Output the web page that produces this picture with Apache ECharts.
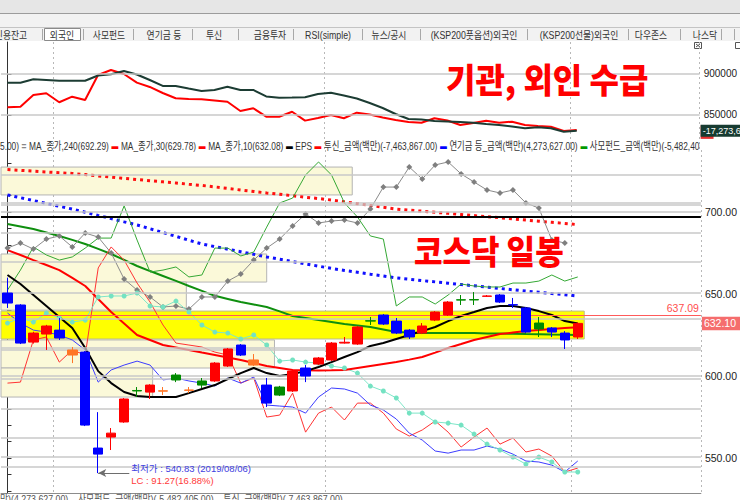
<!DOCTYPE html>
<html>
<head>
<meta charset="utf-8">
<script src="https://cdn.jsdelivr.net/npm/echarts@6/dist/echarts.min.js"></script>
<style>
html, body { margin: 0; padding: 0; background: #fff; }
#chart1 { width: 740px; height: 500px; }
</style>
</head>
<body>
<div id="chart1"></div>
<script>
// 코스닥 일봉 (2019/07/26 ~ 2019/10/01)
var dates = ['2019/07/26','2019/07/29','2019/07/30','2019/07/31','2019/08/01','2019/08/02','2019/08/05','2019/08/06',
    '2019/08/07','2019/08/08','2019/08/09','2019/08/12','2019/08/13','2019/08/14','2019/08/16','2019/08/19',
    '2019/08/20','2019/08/21','2019/08/22','2019/08/23','2019/08/26','2019/08/27','2019/08/28','2019/08/29',
    '2019/08/30','2019/09/02','2019/09/03','2019/09/04','2019/09/05','2019/09/06','2019/09/09','2019/09/10',
    '2019/09/11','2019/09/16','2019/09/17','2019/09/18','2019/09/19','2019/09/20','2019/09/23','2019/09/24',
    '2019/09/25','2019/09/26','2019/09/27','2019/09/30','2019/10/01'];

var opens  = [650.6,643.3,620.7,625.6,628.0,612.8,614.6,556.1,562.8,572.0,591.2,590.2,590.8,600.6,591.3,597.0,597.0,606.1,618.9,606.7,594.5,593.3,590.9,604.9,607.3,609.8,620.1,619.5,633.7,637.2,633.5,628.0,626.2,634.1,637.2,646.5,646.6,648.6,649.4,643.5,641.5,632.3,629.3,626.2,623.8];
var closes = [644.5,620.1,626.2,630.5,623.2,615.9,570.1,552.4,565.2,586.0,590.9,594.5,591.0,597.6,591.5,594.5,607.9,616.5,612.8,609.8,583.5,588.4,603.0,600.0,611.0,620.1,620.6,629.9,633.5,631.7,626.2,623.8,630.5,639.0,645.1,646.3,646.4,648.8,645.1,643.3,626.8,628.7,626.8,622.0,632.1];
var lows   = [641.5,619.5,619.8,615.9,622.0,607.9,569.5,540.83,554.9,571.5,587.2,586.0,588.4,596.3,589.6,592.7,596.5,605.5,612.2,606.1,581.1,587.8,590.3,596.3,606.7,609.2,619.8,619.0,631.1,631.1,625.6,622.6,625.6,633.5,636.6,643.3,643.3,648.2,644.5,641.5,626.2,623.8,623.8,616.5,622.6];
var highs  = [660.0,643.8,627.0,631.2,635.4,617.7,615.2,578.0,568.3,586.6,593.3,595.0,593.3,601.8,593.3,598.8,608.5,617.1,619.5,613.4,598.8,594.0,603.6,606.7,611.6,620.7,623.8,630.5,636.0,637.8,635.4,628.6,632.3,639.6,645.7,649.4,651.2,649.4,650.0,647.6,642.1,636.0,629.9,627.4,632.7];

// 이동평균
var ma240 = [725.9,725.4,724.9,724.4,723.9,723.5,722.8,722.0,721.3,720.5,719.8,719.1,718.4,717.7,716.9,716.2,715.3,714.4,713.4,712.5,711.6,710.8,709.9,709.0,708.2,707.3,706.2,705.1,704.0,702.9,701.8,701.1,700.5,699.8,699.2,698.5,697.8,697.1,696.5,695.8,695.1,694.4,693.7,693.0,692.29];
var ma120 = [710.4,708.7,707.0,705.2,703.5,701.8,699.9,697.9,696.0,694.0,692.1,689.8,687.5,685.2,682.8,680.5,678.9,677.3,675.8,674.2,672.6,671.2,669.8,668.4,667.0,665.6,664.4,663.3,662.1,661.0,659.8,659.0,658.2,657.4,656.6,655.8,655.0,654.2,653.4,652.6,651.8,651.1,650.3,649.6,648.8];
var ma60  = [692.7,691.2,689.6,687.5,685.4,683.0,680.5,677.5,674.4,670.8,667.1,664.0,661.0,658.0,654.9,651.9,648.9,647.0,645.1,643.6,642.1,639.4,636.6,635.4,634.1,632.9,631.7,630.8,629.9,628.4,626.8,626.5,626.2,626.2,626.2,626.2,626.2,626.0,625.9,625.8,625.6,625.5,625.3,625.2,625.0];
var ma30  = [676.8,673.8,670.7,667.7,664.6,659.8,654.9,647.0,639.0,632.0,625.0,622.0,618.9,617.4,615.9,614.3,612.8,611.3,609.8,608.0,606.1,604.9,603.7,603.5,603.4,603.5,603.7,604.9,606.1,607.3,608.5,610.0,611.6,614.3,617.1,619.5,622.0,623.8,625.6,626.5,627.4,628.0,628.7,629.3,629.78];
var ma10  = [661.6,656.1,649.4,642.7,636.0,629.3,617.1,603.0,595.7,590.3,587.8,587.2,587.2,587.2,589.6,592.1,594.5,598.2,601.8,604.9,601.8,600.0,601.2,603.0,605.5,608.5,611.6,614.6,618.3,620.1,622.6,625.0,627.4,629.9,633.5,636.6,639.0,641.5,642.7,642.7,641.5,639.6,637.2,633.5,632.08];

// 주체별 금액 (가격 축에 겹쳐 그린 값)
var epsLine   = [678.0,681.1,677.4,683.5,685.4,678.7,687.2,684.7,675.0,659.1,652.4,648.2,642.1,642.7,640.8,648.2,648.2,657.9,662.2,670.7,678.0,683.5,691.5,698.8,693.3,694.5,695.1,693.3,701.8,715.2,715.2,727.4,720.1,728.7,730.5,723.2,718.3,713.4,711.6,713.4,705.5,702.4,682.9,681.1,null];
var trustLine = [595.7,596.3,622.0,623.8,608.5,615.9,612.8,665.9,678.7,670.7,656.7,645.1,631.1,620.1,618.9,617.7,614.6,612.8,595.7,598.8,575.0,576.2,589.6,565.8,577.4,581.1,573.2,583.5,583.5,577.4,567.7,563.4,567.1,572.6,565.8,556.7,562.8,568.3,558.5,562.2,553.7,555.5,551.2,541.5,543.9];
var pensionLine = [638.4,632.3,628.0,626.8,625.0,622.0,615.9,596.3,603.7,606.7,609.1,606.7,597.6,598.8,597.0,595.7,593.9,598.8,595.7,599.4,582.3,581.7,581.1,577.4,587.2,592.7,592.1,589.6,582.3,579.3,573.8,565.2,561.0,554.3,553.0,554.9,554.9,557.3,555.5,552.4,548.2,547.6,545.7,541.5,548.2];
var privateLine = [652.4,664.6,678.7,673.8,670.7,672.6,678.0,684.1,684.1,703.7,682.9,663.4,664.6,666.5,660.4,661.6,678.0,678.0,673.2,675.6,690.8,705.5,708.5,722.6,730.5,722.6,705.5,697.0,685.4,683.5,642.7,648.2,648.2,643.9,649.4,656.1,654.9,654.3,654.3,656.7,656.7,657.9,661.6,657.9,660.4];
var foreignDots = [632.3,635.4,632.9,638.4,635.4,632.9,634.1,648.2,648.8,648.8,650.6,642.7,642.1,645.7,639.0,631.1,626.8,626.2,622.6,625.0,618.9,609.1,609.8,608.5,607.9,606.1,604.9,601.8,593.9,590.9,586.6,577.4,577.4,572.0,571.3,570.1,564.6,558.5,554.9,550.6,546.3,550.6,547.6,541.5,541.5];

// 상단 수급 창
var instFlow    = [889400,889400,893500,892700,891800,891800,891800,898200,899600,903700,899400,892700,885400,885400,882300,879300,880500,884500,880500,880500,872600,871100,871300,871600,875600,877200,873800,870100,864600,858500,851200,845100,844500,842700,842100,841500,840600,839000,837800,836000,833800,835000,833800,829600,830900];
var foreignFlow = [859400,860100,874400,876500,865500,872300,868300,898800,904900,900000,889400,884200,876800,870400,869500,869200,867700,866200,854900,858200,847900,847900,854000,843100,846300,850000,846000,852800,850600,847000,843900,841500,840600,846000,843300,837800,840200,843100,840600,841800,837800,836600,835700,830500,831700];

// 가격대 표시
var levels = [722.6,705.5,704.3,700.0,687.2,669.5,650.6,634.8,617.1,615.9,600.0,598.2,579.9,562.2,550.6,544.5];
var zones = [[-0.5,26.6,710.4,727.4],[-0.5,20.0,657.3,674.4],[-0.5,13.8,640.2,657.3],[-0.5,20.6,604.9,622.0],[-0.5,11.2,587.2,604.9]];
var band = [-0.5,44.5,622.6,639.6];
var blackLevel = 697.3;
var refLevel = 637.09;

var tabNames = ['신용잔고','외국인','사모펀드','연기금 등','투신','금융투자','RSI(simple)','뉴스/공시','(KSP200풋옵션)외국인','(KSP200선물)외국인','다우존스','나스닥'];
var tabX = [11,62,109,164,214,270,328,389,474,579,651,705];
var tabSep = [42,83,133,192,238,293,362,420,527,628,680,721,734];

var SLOTS = 54;
var FONT = "'Liberation Sans','Noto Sans CJK KR',sans-serif";
var KFONT = "'Noto Sans CJK KR',sans-serif";
var NONE = 'rgba(0,0,0,0)';

var UP = '#ff0000', DOWN = '#0000ff', UP_BODY_DOWN_DAY = '#ff7526', DOWN_BODY_UP_DAY = '#008a00';

var cats = dates.slice();
while (cats.length < SLOTS) cats.push('');

function month(i) { return cats[i] ? cats[i].substr(5, 2) : null; }
function monthSplit(i) { return i > 0 && i < dates.length && month(i) !== month(i - 1); }

function candleColor(i) {
    var o = opens[i], c = closes[i];
    if (i === 0) return c >= o ? UP : DOWN;
    var prev = closes[i - 1];
    if (c >= prev) return c >= o ? UP : DOWN_BODY_UP_DAY;
    return c < o ? DOWN : UP_BODY_DOWN_DAY;
}

var candles = dates.map(function (d, i) {
    var col = candleColor(i);
    return {
        value: [opens[i], closes[i], lows[i], highs[i]],
        itemStyle: { color: col, color0: col, borderColor: col, borderColor0: col }
    };
});

var lowIdx = 0;
for (var i = 1; i < lows.length; i++) if (lows[i] < lows[lowIdx]) lowIdx = i;
var lastClose = closes[closes.length - 1];
var lc = lastClose - lows[lowIdx];

function line(name, data, color, width, extra) {
    var s = {
        name: name, type: 'line', xAxisIndex: 2, yAxisIndex: 1, data: data,
        symbol: 'none', silent: true, animation: false, z: 3,
        lineStyle: { color: color, width: width }
    };
    for (var k in extra) s[k] = extra[k];
    return s;
}

// 오른쪽 끝 가격표
function priceTag(value, text, bg, size) {
    return {
        silent: true, symbol: 'none', lineStyle: { color: NONE, width: 1 },
        label: { show: true, position: 'end', distance: 1, formatter: text,
                 color: '#fff', backgroundColor: bg, padding: [2, 8, 1, 2],
                 fontSize: size || 10.5, fontFamily: FONT },
        data: [{ yAxis: value }]
    };
}

var chart = echarts.init(document.getElementById('chart1'), null, { renderer: 'svg' });

var option = {
    animation: false,
    grid: [
        { left: 1, right: 37, top: 42, height: 108 },
        { left: 1, right: 37, top: 150, height: 343 }
    ],
    xAxis: [
        { type: 'category', gridIndex: 0, data: cats, boundaryGap: true,
          axisLine: { show: false }, axisTick: { show: false }, axisLabel: { show: false },
          splitLine: { show: true, interval: monthSplit, lineStyle: { color: '#b8b8b8', type: [2, 3] } } },
        { type: 'value', gridIndex: 0, min: -0.5, max: SLOTS - 0.5, show: false },
        { type: 'category', gridIndex: 1, data: cats, boundaryGap: true,
          axisLine: { show: true, lineStyle: { color: '#8c8c8c' } }, axisTick: { show: false }, axisLabel: { show: false },
          splitLine: { show: true, interval: monthSplit, lineStyle: { color: '#b8b8b8', type: [2, 3] } } },
        { type: 'value', gridIndex: 1, min: -0.5, max: SLOTS - 0.5, show: false }
    ],
    yAxis: [
        { type: 'value', gridIndex: 0, position: 'right', min: 807300, max: 939000, scale: true,
          axisLine: { show: true, lineStyle: { color: '#333' } },
          axisTick: { show: true, length: 4, customValues: [850000, 900000], lineStyle: { color: '#333' } },
          axisLabel: { customValues: [850000, 900000], formatter: function (v) { return String(v); },
                       color: '#222', fontSize: 10, fontFamily: FONT, margin: 4 },
          splitLine: { show: false } },
        { type: 'value', gridIndex: 1, position: 'right', min: 528.7, max: 737.8,
          axisLine: { show: true, lineStyle: { color: '#333' } },
          axisTick: { show: true, length: 4, customValues: [530,540,550,560,570,580,590,600,610,620,630,640,650,660,670,680,690,700,710,720,730], lineStyle: { color: '#333' } },
          axisLabel: { customValues: [550, 600, 650, 700], formatter: function (v) { return v.toFixed(2); },
                       color: '#222', fontSize: 10.5, fontFamily: FONT, margin: 4 },
          splitLine: { show: false } }
    ],
    series: [
        // 상단 창 격자
        { type: 'line', xAxisIndex: 1, yAxisIndex: 0, data: [], z: 1, silent: true,
          markLine: { silent: true, symbol: 'none', label: { show: false },
                      lineStyle: { color: '#c8c8c8', width: 1.5, type: 'solid' },
                      data: [{ yAxis: 850000 }, { yAxis: 900000 }] } },
        { name: '외인', type: 'line', xAxisIndex: 0, yAxisIndex: 0, data: foreignFlow, symbol: 'none', z: 3, clip: false,
          lineStyle: { color: '#ff0000', width: 2 },
          markLine: priceTag(foreignFlow[foreignFlow.length - 1] - 2600, ' ', '#e83030') },
        { name: '기관', type: 'line', xAxisIndex: 0, yAxisIndex: 0, data: instFlow, symbol: 'none', z: 4, clip: false,
          lineStyle: { color: '#1c3c33', width: 2 },
          markLine: priceTag(instFlow[instFlow.length - 1], '-17,273,6', '#173b31', 9) },

        // 가격대 선
        { type: 'line', xAxisIndex: 3, yAxisIndex: 1, data: [], z: 1, silent: true,
          markLine: { silent: true, symbol: 'none', label: { show: false },
                      lineStyle: { color: '#c8c8c8', width: 1.5, type: 'solid' },
                      data: levels.map(function (v) { return { yAxis: v }; }) } },
        // 박스 구간
        { type: 'line', xAxisIndex: 3, yAxisIndex: 1, data: [], z: 2, silent: true,
          markArea: { silent: true,
                      data: zones.map(function (z) {
                          return [{ coord: [z[0], z[3]], itemStyle: { color: '#fbf9d9', borderColor: '#b4b4b4', borderWidth: 1 } },
                                  { coord: [z[1], z[2]] }];
                      }).concat([[{ coord: [band[0], band[3]], itemStyle: { color: '#ffff00', borderColor: '#bdbd8a', borderWidth: 1 } },
                                  { coord: [band[1], band[2]] }]]) },
          markLine: { silent: true, symbol: 'none',
                      data: [
                          { yAxis: blackLevel, lineStyle: { color: '#000', width: 2, type: 'solid' }, label: { show: false } },
                          { yAxis: refLevel, lineStyle: { color: '#ff5a5a', width: 1, type: 'solid' },
                            label: { show: true, position: 'insideEndTop', distance: 2, color: '#ff4d4d',
                                     fontSize: 10.5, fontFamily: FONT, formatter: refLevel.toFixed(2) } }
                      ] } },

        line('MA_종가,240', ma240, '#ff1010', 3, { lineStyle: { color: '#ff1010', width: 3, type: [3, 4] } }),
        line('MA_종가,120', ma120, '#0000ff', 3, { lineStyle: { color: '#1010ff', width: 3, type: [3, 4] } }),
        line('MA_종가,60', ma60, '#0f8f0f', 2),
        line('사모펀드_금액', privateLine, '#35a835', 1),
        line('투신_금액', trustLine, '#ff3333', 1),
        line('연기금 등_금액', pensionLine, '#3c3cff', 1),
        line('EPS', epsLine, '#8a8a8a', 1, { symbol: 'diamond', symbolSize: 6, itemStyle: { color: '#7f7f7f' } }),
        line('외국인', foreignDots, '#7ee6c8', 1, { symbol: 'circle', symbolSize: 5, itemStyle: { color: '#74e2c2' } }),
        line('MA_종가,30', ma30, '#ff0000', 2),
        line('MA_종가,10', ma10, '#000000', 2),

        { name: '코스닥', type: 'candlestick', xAxisIndex: 2, yAxisIndex: 1, data: candles,
          barWidth: 10, z: 6, silent: true, clip: false,
          markLine: priceTag(lastClose, lastClose.toFixed(2), '#f56d6d') },

        // 최저가 표시
        { type: 'line', xAxisIndex: 3, yAxisIndex: 1, data: [], z: 7, silent: true,
          markLine: { silent: true, symbol: ['arrow', 'none'], symbolSize: [6, 8],
                      lineStyle: { color: '#6e6e6e', width: 1, type: 'solid' },
                      label: { show: true, position: 'end', distance: 2, padding: [3, 0, 0, 0],
                               formatter: '{a|최저가 : ' + lows[lowIdx].toFixed(2) + ' (' + dates[lowIdx] + ')}\n{b|LC : ' +
                                          lc.toFixed(2) + '(' + (lc / lows[lowIdx] * 100).toFixed(2) + '%)}',
                               rich: { a: { color: '#4040e0', fontSize: 9.5, fontFamily: FONT, lineHeight: 12 },
                                       b: { color: '#ff3a3a', fontSize: 9.5, fontFamily: FONT, lineHeight: 12 } } },
                      data: [[{ coord: [lowIdx, lows[lowIdx]] }, { coord: [lowIdx + 2.4, lows[lowIdx]] }]] } }
    ],
    graphic: [
        { type: 'rect', shape: { x: 0, y: 0, width: 740, height: 14 }, style: { fill: '#e6e6e6' }, z: 0 },
        { type: 'line', shape: { x1: 0, y1: 13.5, x2: 740, y2: 13.5 }, style: { stroke: '#9c9c9c', lineWidth: 1 } },
        { type: 'rect', shape: { x: 0, y: 14, width: 740, height: 27 }, style: { fill: '#f2f2f2' }, z: 0 },
        { type: 'line', shape: { x1: 0, y1: 27.5, x2: 740, y2: 27.5 }, style: { stroke: '#c4c4c4', lineWidth: 1 } },
        { type: 'rect', shape: { x: 44.5, y: 28.5, width: 36, height: 12 }, style: { fill: '#fff', stroke: '#8a8a8a' } },
        // 창 닫기 아이콘
        { type: 'rect', shape: { x: 694.5, y: 42.5, width: 7, height: 6 }, style: { fill: '#fff', stroke: '#555' } },
        { type: 'line', shape: { x1: 696, y1: 44, x2: 700, y2: 47 }, style: { stroke: '#555' } },
        { type: 'line', shape: { x1: 700, y1: 44, x2: 696, y2: 47 }, style: { stroke: '#555' } },
        { type: 'rect', shape: { x: 735.5, y: 42.5, width: 6, height: 6 }, style: { fill: '#fff', stroke: '#555' } }
    ].concat(tabSep.map(function (x) {
        return { type: 'line', shape: { x1: x + 0.5, y1: 29, x2: x + 0.5, y2: 40 }, style: { stroke: '#a8a8a8', lineWidth: 1 } };
    })).concat(tabNames.map(function (t, i) {
        return { type: 'text', x: tabX[i], y: 35, scaleX: 0.88,
                 style: { text: t, fill: '#333', font: '10px ' + FONT, textAlign: 'center', textVerticalAlign: 'middle' } };
    })).concat([
        { type: 'text', x: 446, y: 78, z: 50, scaleY: 1.08,
          style: { text: '기관, 외인 수급', fill: '#ff0000', font: '900 32px ' + KFONT, textVerticalAlign: 'middle' } },
        { type: 'text', x: 414, y: 249, z: 50, scaleY: 1.08,
          style: { text: '코스닥 일봉', fill: '#ff0000', font: '900 31px ' + KFONT, textVerticalAlign: 'middle' } },
        { type: 'text', x: 0, y: 146, z: 50, scaleX: 0.76,
          style: {
              text: '{t|5.00)} {g|=} {t|MA_종가,240(' + ma240[44].toFixed(2) + ')} {r|▬} {t|MA_종가,30(' + ma30[44].toFixed(2) +
                    ')} {r|▬} {t|MA_종가,10(' + ma10[44].toFixed(2) + ')} {k|▬} {t|EPS} {r|▬} {t|투신_금액(백만)(-7,463,867.00)} {b|▬} {t|연기금 등_금액(백만)(4,273,627.00)} {gr|▬} {t|사모펀드_금액(백만)(-5,482,405.00)}',
              width: 924, overflow: 'truncate', ellipsis: '',
              textVerticalAlign: 'middle',
              rich: {
                  t: { fill: '#333', font: '11px ' + FONT },
                  g: { fill: '#888', font: 'bold 11px ' + FONT },
                  r: { fill: '#ff0000', font: '9px ' + FONT },
                  k: { fill: '#000', font: '9px ' + FONT },
                  b: { fill: '#0000ff', font: '9px ' + FONT },
                  gr: { fill: '#009900', font: '9px ' + FONT }
              }
          } },
        { type: 'text', x: 0, y: 494, z: 50, scaleX: 0.8,
          style: { text: '만)(4,273,627.00)    사모펀드_금액(백만)(-5,482,405.00)    투신_금액(백만)(-7,463,867.00)',
                   fill: '#555', font: '11px ' + FONT, textVerticalAlign: 'top' } }
    ])
};

chart.setOption(option, true);
</script>
</body>
</html>
